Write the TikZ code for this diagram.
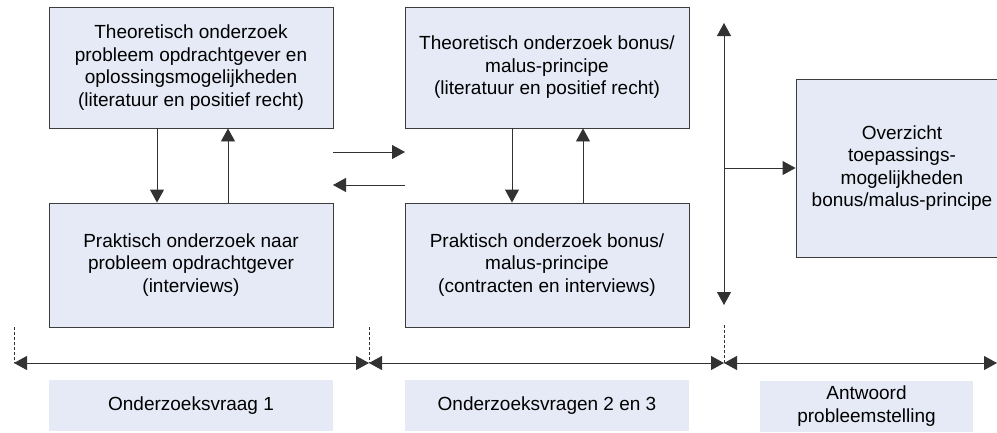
\documentclass[tikz,border=0pt]{standalone}
\usepackage{fontspec}
\setmainfont{Liberation Sans}
\usetikzlibrary{arrows.meta}
\definecolor{boxfill}{RGB}{230,234,246}
\definecolor{boxline}{RGB}{60,60,60}
\definecolor{linkline}{RGB}{50,50,50}
\begin{document}
\begin{tikzpicture}[x=1pt,y=-1pt,
  every node/.style={font=\fontsize{19}{22.5}\selectfont, text=black, align=center, inner sep=0pt},
  stepbox/.style={draw=boxline, line width=0.9pt, fill=boxfill, minimum width=284pt},
  labelbox/.style={fill=boxfill, minimum height=51pt},
  link/.style={draw=linkline, line width=0.9pt, -{Triangle[length=13pt,width=14pt]}},
  span/.style={draw=linkline, line width=0.9pt, {Triangle[length=13pt,width=14pt]}-{Triangle[length=13pt,width=14pt]}},
  guide/.style={draw=linkline, line width=0.6pt, dash pattern=on 3pt off 2pt}]
\useasboundingbox (0,0) rectangle (997,432);
\clip (0,0) rectangle (997,432);

% research blocks
\node[stepbox, minimum height=121pt] (A) at (191,67.5)
  {Theoretisch onderzoek\\probleem opdrachtgever en\\oplossingsmogelijkheden\\(literatuur en positief recht)};
\node[stepbox, minimum height=124pt] (B) at (191,265)
  {Praktisch onderzoek naar\\probleem opdrachtgever\\(interviews)};
\node[stepbox, minimum height=121pt] (C) at (547,67.5)
  {Theoretisch onderzoek bonus/\\malus-principe\\(literatuur en positief recht)};
\node[stepbox, minimum height=124pt] (D) at (547,265)
  {Praktisch onderzoek bonus/\\malus-principe\\(contracten en interviews)};
\node[stepbox, minimum width=212pt, minimum height=178pt] (E) at (902,168)
  {Overzicht\\toepassings-\\mogelijkheden\\bonus/malus-principe};

% phase labels
\node[labelbox, minimum width=284pt] (L1) at (191,405.5) {Onderzoeksvraag 1};
\node[labelbox, minimum width=284pt] (L2) at (547,405.5) {Onderzoeksvragen 2 en 3};
\node[labelbox, minimum width=213pt] (L3) at (866.5,406) {Antwoord\\probleemstelling};

% vertical links inside each phase
\draw[link] ([xshift=-34pt]A.south) -- ([xshift=-34pt]B.north);
\draw[link] ([xshift=37pt]B.north) -- ([xshift=37pt]A.south);
\draw[link] ([xshift=-35pt]C.south) -- ([xshift=-35pt]D.north);
\draw[link] ([xshift=36pt]D.north) -- ([xshift=36pt]C.south);

% exchange between phases
\coordinate (r1) at (333,152);
\coordinate (r2) at (405,152);
\coordinate (l1) at (405,185);
\coordinate (l2) at (333,185);
\draw[link] (r1) -- (r2);
\draw[link] (l1) -- (l2);

% vertical double arrow and branch to overview
\coordinate (vt) at (724,23);
\coordinate (vb) at (724,305);
\coordinate (vm) at (724,168);
\draw[span] (vb) -- (vt);
\draw[link] (vm) -- (E.west);

% phase spans
\coordinate (p0) at (14,363);
\coordinate (p1) at (369,363);
\coordinate (p2) at (724,363);
\coordinate (p3) at (997,363);
\coordinate (g0) at (14,327);
\coordinate (g1) at (369,327);
\coordinate (g2) at (724,325);
\draw[guide] (g0) -- (p0);
\draw[guide] (g1) -- (p1);
\draw[guide] (g2) -- (p2);
\draw[span] (p0) -- (p1);
\draw[span] (p1) -- (p2);
\draw[span] (p2) -- (p3);
\end{tikzpicture}
\end{document}
